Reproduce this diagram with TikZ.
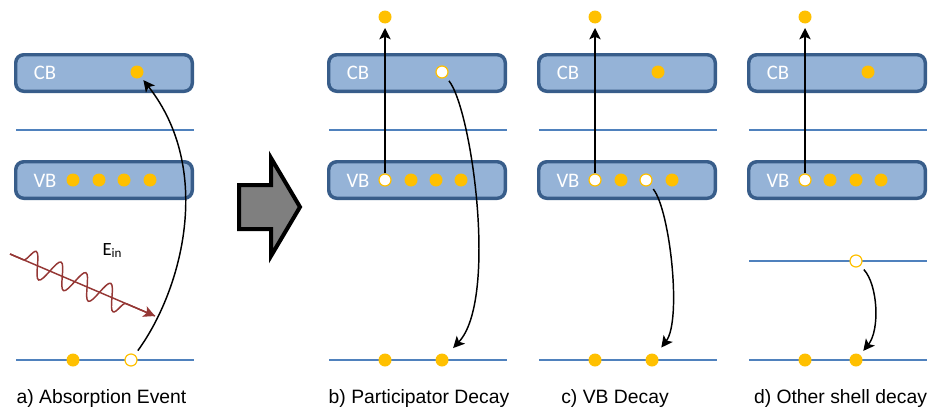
\documentclass[tikz,border=0pt]{standalone}
\usepackage{fontspec}
\setmainfont{Liberation Sans}
\newfontfamily\bandfont{Carlito}
\usetikzlibrary{arrows.meta,decorations.pathmorphing}

\definecolor{bandfill}{RGB}{149,179,215}
\definecolor{banddraw}{RGB}{56,93,138}
\definecolor{levelc}{RGB}{79,129,189}
\definecolor{dotc}{RGB}{255,192,0}
\definecolor{wavec}{RGB}{149,55,53}
\definecolor{arrowgray}{RGB}{127,127,127}

\tikzset{every picture/.style={line width=0.75pt}}
\tikzset{
  band/.style={draw=banddraw, fill=bandfill, line width=2.6pt, rounded corners=6pt,
    minimum width=132.4pt, minimum height=27.4pt, inner sep=0pt},
  bandlbl/.style={text=white, font=\bandfont\fontsize{15.5}{18}\selectfont, inner sep=0pt},
  level/.style={draw=levelc, line width=1pt},
  full/.style={circle, fill=dotc, inner sep=0pt, minimum size=9.75pt},
  hole/.style={circle, draw=dotc, fill=white, line width=0.9pt, inner sep=0pt, minimum size=9pt},
  jump/.style={line width=1.1pt, -{Stealth[length=8.5pt,width=8.5pt,inset=2pt]}},
  caption/.style={font=\fontsize{14.5}{17}\selectfont, inner sep=0pt, anchor=base}
}

\begin{document}
\begin{tikzpicture}[x=0.75pt,y=0.75pt,yscale=-1,xscale=1]
	\useasboundingbox (0,0) rectangle (931,407);

	%Bands and levels, same in every panel
	\foreach \ox/\p in {14/a,327/b,537/c,747/d}{
		\node[band] (\p-cb) at (\ox+90,73) {};
		\node[bandlbl] (\p-cbt) at (\ox+31,73) {CB};
		\node[band] (\p-vb) at (\ox+90,180) {};
		\node[bandlbl] (\p-vbt) at (\ox+31,181) {VB};
		\draw[level] (\ox+2,130) -- (\ox+180,130);
		\draw[level] (\ox+2,360) -- (\ox+180,360);
	}

	% a) absorption
	\node[full] (a-cbe) at (137,72) {};
	\foreach \i/\x in {1/73,2/99,3/124,4/150}
		\node[full] (a-vb\i) at (\x,180) {};
	\node[full] (a-core1) at (73,360) {};
	\node[hole] (a-core2) at (131,360) {};
	% incoming photon
	\coordinate (a-src) at (10,254);
	\coordinate (a-dst) at (155,316);
	\draw[wavec, line width=1.1pt, -{Stealth[length=8.5pt,width=8.5pt,inset=2pt]}] (a-src) -- (a-dst);
	\draw[wavec, line width=1.1pt, decorate, decoration={snake, amplitude=9.5pt, segment length=20.25pt,
		pre length=11pt, post length=22pt}] (a-src) -- (a-dst);
	\node[font=\bandfont\fontsize{14}{16}\selectfont, anchor=base west, inner sep=0pt] (a-ein) at (102,255) {E\textsubscript{in}};
	\draw[jump, shorten <=3.75pt, shorten >=2.5pt] (a-core2) .. controls (182,290) and (214,170) .. (a-cbe);

	% big arrow between a) and the rest
	\draw[line width=3pt, fill=arrowgray, line join=miter] (239,185) -- (271,185) -- (271,158) -- (300,207)
		-- (271,256) -- (271,229) -- (239,229) -- cycle;

	% b) participator decay
	\node[full] (b-out) at (385,17) {};
	\node[hole] (b-cbh) at (442,72) {};
	\node[hole] (b-vb1) at (385,180) {};
	\foreach \i/\x in {2/411,3/436,4/461}
		\node[full] (b-vb\i) at (\x,180) {};
	\node[full] (b-core1) at (385,360) {};
	\node[full] (b-core2) at (442,360) {};
	\draw[jump, shorten >=3pt] (b-vb1) -- (b-out);
	\draw[jump, shorten <=3.5pt, shorten >=7pt] (b-cbh) .. controls (472,110) and (498,300) .. (b-core2);

	% c) VB decay
	\node[full] (c-out) at (595,17) {};
	\node[full] (c-cbe) at (658,72) {};
	\node[hole] (c-vb1) at (595,180) {};
	\node[full] (c-vb2) at (621,180) {};
	\node[hole] (c-vb3) at (646,180) {};
	\node[full] (c-vb4) at (672,180) {};
	\node[full] (c-core1) at (595,360) {};
	\node[full] (c-core2) at (652,360) {};
	\draw[jump, shorten >=3pt] (c-vb1) -- (c-out);
	\draw[jump, shorten <=3.75pt, shorten >=6.4pt] (c-vb3) .. controls (670,210) and (682,320) .. (c-core2);

	% d) other shell decay
	\draw[level] (749,261) -- (927,261);
	\node[full] (d-out) at (805,17) {};
	\node[full] (d-cbe) at (868,72) {};
	\node[hole] (d-vb1) at (805,180) {};
	\foreach \i/\x in {2/830,3/856,4/881}
		\node[full] (d-vb\i) at (\x,180) {};
	\node[hole] (d-mid) at (856,261) {};
	\node[full] (d-core1) at (805,360) {};
	\node[full] (d-core2) at (856,360) {};
	\draw[jump, shorten >=3pt] (d-vb1) -- (d-out);
	\draw[jump, shorten <=3.75pt, shorten >=3.5pt] (d-mid) .. controls (878,285) and (880,330) .. (d-core2);

	% captions
	\node[caption] (a-cap) at (101.5,403) {a) Absorption Event};
	\node[caption] (b-cap) at (419,403) {b) Participator Decay};
	\node[caption] (c-cap) at (615,403) {c) VB Decay};
	\node[caption] (d-cap) at (840.5,403) {d) Other shell decay};
\end{tikzpicture}
\end{document}
